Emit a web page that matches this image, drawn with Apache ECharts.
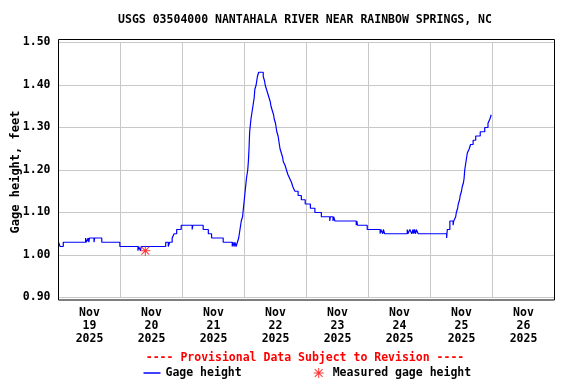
<!DOCTYPE html>
<html>
<head>
<meta charset="utf-8">
<script src="https://cdn.jsdelivr.net/npm/echarts@6/dist/echarts.min.js"></script>
<style>
html,body{margin:0;padding:0;background:#fff;}
#chart{width:576px;height:384px;}
</style>
</head>
<body>
<div id="chart"></div>
<script>
// ---- Data ----
const chartTitle = 'USGS 03504000 NANTAHALA RIVER NEAR RAINBOW SPRINGS, NC';
const provisionalNote = '---- Provisional Data Subject to Revision ----';
const dayLabels = ['Nov\n19\n2025','Nov\n20\n2025','Nov\n21\n2025','Nov\n22\n2025','Nov\n23\n2025','Nov\n24\n2025','Nov\n25\n2025','Nov\n26\n2025'];
const yTickValues = [0.90, 1.00, 1.10, 1.20, 1.30, 1.40, 1.50];
// Gage height: hours since Nov 19 00:00 at which a new reading level begins
const gageHours = [
  0, 0.6, 1.85, 10.5, 10.75, 11.5, 11.75, 12.0, 13.75, 14.0, 16.75, 23.75,
  30.75, 31.0, 31.75, 32.0, 41.5, 42.5, 43.0, 44.0, 44.75, 45.75, 47.5, 51.75, 52.0,
  56.0, 58.0, 59.25, 63.75, 67.25, 67.5, 68.0, 68.25, 68.75, 69.25, 69.75, 70.25,
  70.75, 71.25, 71.75, 72.25, 72.75, 73.25, 73.5, 73.75, 74.0, 74.5, 75.0, 75.5,
  75.75, 76.0, 76.5, 76.75, 77.0, 77.5, 79.25, 79.75, 80.0, 80.5, 81.0, 81.5,
  82.0, 82.25, 82.75, 83.25, 83.5, 84.0, 84.25, 84.5, 85.0, 85.25, 85.5, 85.75,
  86.25, 86.75, 87.0, 87.75, 88.25, 88.75, 89.5, 90.25, 90.75, 91.5, 92.75, 94.0,
  95.5, 97.5, 99.25, 101.75, 105.0, 105.25, 106.25, 106.5, 107.0, 115.25, 115.5,
  115.75, 119.5, 124.5, 124.75, 125.5, 125.75, 126.25, 135.0, 135.25, 136.0,
  136.75, 137.25, 137.5, 137.75, 138.25, 138.5, 139.25, 150.25, 150.5, 151.5,
  152.75, 153.0, 153.75, 154.0, 154.5, 154.75, 155.25, 155.5, 156.0, 156.25,
  156.75, 157.0, 157.25, 157.5, 157.75, 158.0, 158.25, 159.0, 159.5, 160.5,
  161.5, 163.25, 165.0, 166.25, 167.0, 167.5, 167.75
];
const gageValues = [
  1.03, 1.02, 1.03, 1.04, 1.03, 1.04, 1.03, 1.04, 1.03, 1.04, 1.03, 1.02,
  1.01, 1.02, 1.01, 1.02, 1.03, 1.02, 1.03, 1.04, 1.05, 1.06, 1.07, 1.06, 1.07,
  1.06, 1.05, 1.04, 1.03, 1.02, 1.03, 1.02, 1.03, 1.02, 1.03, 1.04, 1.06,
  1.08, 1.09, 1.12, 1.15, 1.18, 1.20, 1.22, 1.25, 1.29, 1.32, 1.34, 1.36,
  1.37, 1.39, 1.40, 1.41, 1.42, 1.43, 1.42, 1.41, 1.40, 1.39, 1.38, 1.37,
  1.36, 1.35, 1.34, 1.33, 1.32, 1.31, 1.30, 1.29, 1.28, 1.27, 1.26, 1.25,
  1.24, 1.23, 1.22, 1.21, 1.20, 1.19, 1.18, 1.17, 1.16, 1.15, 1.14, 1.13,
  1.12, 1.11, 1.10, 1.09, 1.08, 1.09, 1.08, 1.09, 1.08, 1.07, 1.08,
  1.07, 1.06, 1.05, 1.06, 1.05, 1.06, 1.05, 1.06, 1.05, 1.06,
  1.05, 1.06, 1.05, 1.06, 1.05, 1.06, 1.05, 1.04, 1.06, 1.08,
  1.07, 1.08, 1.09, 1.10, 1.11, 1.12, 1.13, 1.14, 1.15, 1.16,
  1.17, 1.18, 1.20, 1.21, 1.22, 1.23, 1.24, 1.25, 1.26, 1.27,
  1.28, 1.29, 1.30, 1.31, 1.32, 1.33, 1.33
];
const measuredHours = [33.6];
const measuredValues = [1.01];

// ---- Build ----
const HOUR = 3600 * 1000;
const base = Date.UTC(2025, 10, 19, 0, 0, 0);
const gageData = gageHours.map((h, i) => [base + h * HOUR, gageValues[i]]);
const measuredData = measuredHours.map((h, i) => [base + h * HOUR, measuredValues[i]]);

const FONT = 'DejaVu Sans Mono';
const asterisk = 'path://M5.4,0L6.6,0L6.6,12L5.4,12Z M0,5.4L12,5.4L12,6.6L0,6.6Z M0.9,1.7L1.7,0.9L11.1,10.3L10.3,11.1Z M10.3,0.9L11.1,1.7L1.7,11.1L0.9,10.3Z M4.6,4.6L7.4,4.6L7.4,7.4L4.6,7.4Z';
const txt = {fontFamily: FONT, fontWeight: 'bold', fontSize: 11.5, color: '#000'};

const chart = echarts.init(document.getElementById('chart'), null, {renderer: 'canvas'});
chart.setOption({
  animation: false,
  backgroundColor: '#fff',
  title: [
    {text: chartTitle, left: 305, top: 14, textAlign: 'center', padding: 0,
     textStyle: Object.assign({}, txt)},
    {text: provisionalNote, left: 305, top: 352, textAlign: 'center', padding: 0,
     textStyle: Object.assign({}, txt, {color: '#ff0000'})}
  ],
  legend: [
    {data: [{name: 'Gage height', icon: 'rect'}], left: 143.5, top: 367, padding: 0,
     itemWidth: 17, itemHeight: 1.5, selectedMode: false, textStyle: Object.assign({}, txt)},
    {data: [{name: 'Measured gage height', icon: asterisk}], left: 313.7, top: 367, padding: 0,
     itemWidth: 18, itemHeight: 10, selectedMode: false, textStyle: Object.assign({}, txt)}
  ],
  grid: {left: 58.5, right: 21.5, top: 42.5, bottom: 86.5, containLabel: false, outerBoundsMode: 'none'},
  xAxis: [
    {type: 'time', min: base, max: base + 8 * 24 * HOUR, show: false, position: 'top'},
    {type: 'category', data: dayLabels, boundaryGap: true, position: 'bottom',
     axisLine: {show: false}, axisTick: {show: false},
     splitLine: {show: true, lineStyle: {color: '#c8c8c8', width: 1}},
     axisLabel: Object.assign({margin: 9, lineHeight: 13, interval: 0}, txt)}
  ],
  yAxis: {
    type: 'value', min: yTickValues[0], max: yTickValues[yTickValues.length - 1], interval: 0.1,
    axisLine: {show: false}, axisTick: {show: false},
    splitLine: {show: true, lineStyle: {color: '#c8c8c8', width: 1}},
    axisLabel: Object.assign({margin: 8, formatter: v => v.toFixed(2)}, txt),
    name: 'Gage height, feet', nameLocation: 'middle', nameGap: 37, nameRotate: 90,
    nameMoveOverlap: false,
    nameTextStyle: {fontFamily: FONT, fontWeight: 'bold', fontSize: 12, color: '#000', padding: [0, 4, 0, 0]}
  },
  graphic: [
    {type: 'rect', z: 100, silent: true,
     shape: {x: 58.5, y: 39.5, width: 496, height: 260.5},
     style: {fill: 'none', stroke: '#000', lineWidth: 1}}
  ],
  series: [
    {name: 'Gage height', type: 'line', xAxisIndex: 0, data: gageData, step: 'end',
     showSymbol: false, symbol: 'none', color: '#0000ff',
     lineStyle: {color: '#0000ff', width: 1.2}, z: 3},
    {name: 'Measured gage height', type: 'scatter', xAxisIndex: 0, data: measuredData,
     symbol: asterisk, symbolSize: 10, color: '#ff0000', itemStyle: {color: '#ff0000'}, z: 4}
  ]
});
</script>
</body>
</html>
